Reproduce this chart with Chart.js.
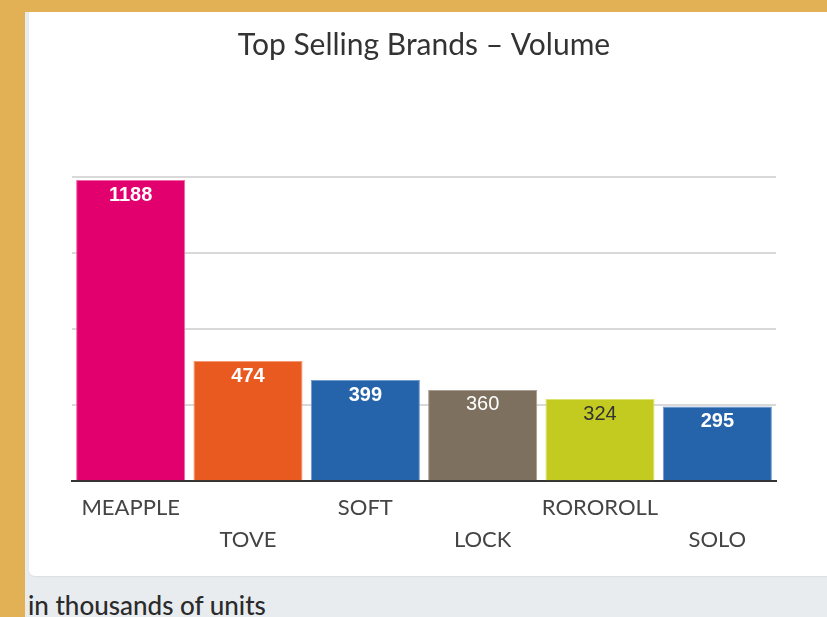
<!DOCTYPE html>
<html>
<head>
<meta charset="utf-8">
<script src="https://cdn.jsdelivr.net/npm/chart.js@4.4.1/dist/chart.umd.min.js"></script>
<style>
  html, body { margin: 0; padding: 0; }
  body { width: 827px; height: 617px; background: #e2b155; position: relative; overflow: hidden; }
  .panel { position: absolute; left: 25px; top: 12px; right: 0; bottom: 0; background: #e9ecef; }
  .card { position: absolute; left: 4px; top: 0; width: 810px; height: 564px; background: #fff;
          border-radius: 0 0 0 6px; box-shadow: 0 1px 2px rgba(0,0,0,0.06); }
  .card canvas { position: absolute; left: 0; top: 0; }
  .note { position: absolute; left: 3px; top: 577px; font: 500 26px Lato, sans-serif; color: #2b2b2b; }
</style>
</head>
<body>
<div class="panel">
  <div class="card"><canvas id="chart" width="798" height="564"></canvas></div>
  <div class="note">in thousands of units</div>
</div>
<script>
// brands and sales volume (thousands of units)
const brands = ['MEAPPLE', 'TOVE', 'SOFT', 'LOCK', 'ROROROLL', 'SOLO'];
const volumes = [1188, 474, 399, 360, 324, 295];
const yTicks = [0, 300, 600, 900, 1200];

const barColors = ['#e2006f', '#e95a21', '#2563aa', '#7d705e', '#c3cb20', '#2563aa'];
const edgeColors = ['#f06aa8', '#f49a72', '#6f9acb', '#aaa091', '#dde36e', '#6f9acb'];
const valueColors = ['#fff', '#fff', '#fff', '#fff', '#333', '#fff'];

// every second brand name drops to a second line
const staggered = brands.map((b, i) => i % 2 ? ['', b] : [b, '']);

const valueLabels = {
  id: 'valueLabels',
  afterDatasetsDraw(chart) {
    const ctx = chart.ctx;
    const meta = chart.getDatasetMeta(0);
    ctx.save();
    ctx.textAlign = 'center';
    ctx.textBaseline = 'middle';
    meta.data.forEach((bar, i) => {
      ctx.font = (i === 3 || i === 4 ? '' : 'bold ') + '20px "Liberation Sans", Arial, sans-serif';
      ctx.fillStyle = valueColors[i];
      ctx.fillText(volumes[i], bar.x, bar.y + 15);
    });
    ctx.restore();
  }
};

new Chart(document.getElementById('chart'), {
  type: 'bar',
  data: {
    labels: staggered,
    datasets: [{
      data: volumes,
      backgroundColor: barColors,
      borderColor: edgeColors,
      borderWidth: 1,
      barPercentage: 0.93,
      categoryPercentage: 1
    }]
  },
  options: {
    responsive: false,
    animation: false,
    layout: { padding: { left: 43, right: 51, bottom: 17 } },
    plugins: {
      legend: { display: false },
      tooltip: { enabled: false },
      title: {
        display: true,
        text: 'Top Selling Brands – Volume',
        color: '#333',
        font: { family: 'Lato', size: 30, weight: 'normal' },
        padding: { top: 15, bottom: 114 }
      }
    },
    scales: {
      x: {
        grid: { display: false },
        border: { display: true, color: '#333', width: 2 },
        ticks: {
          color: '#444',
          maxRotation: 0,
          autoSkip: false,
          padding: 3,
          font: { family: 'Lato', size: 22, lineHeight: 1.45 }
        }
      },
      y: {
        min: 0,
        max: yTicks[yTicks.length - 1],
        afterBuildTicks(axis) { axis.ticks = yTicks.map(v => ({ value: v })); },
        border: { display: false },
        grid: { color: '#d9d9d9', lineWidth: 2, drawTicks: false },
        ticks: { display: false }
      }
    }
  },
  plugins: [valueLabels]
});
</script>
</body>
</html>
